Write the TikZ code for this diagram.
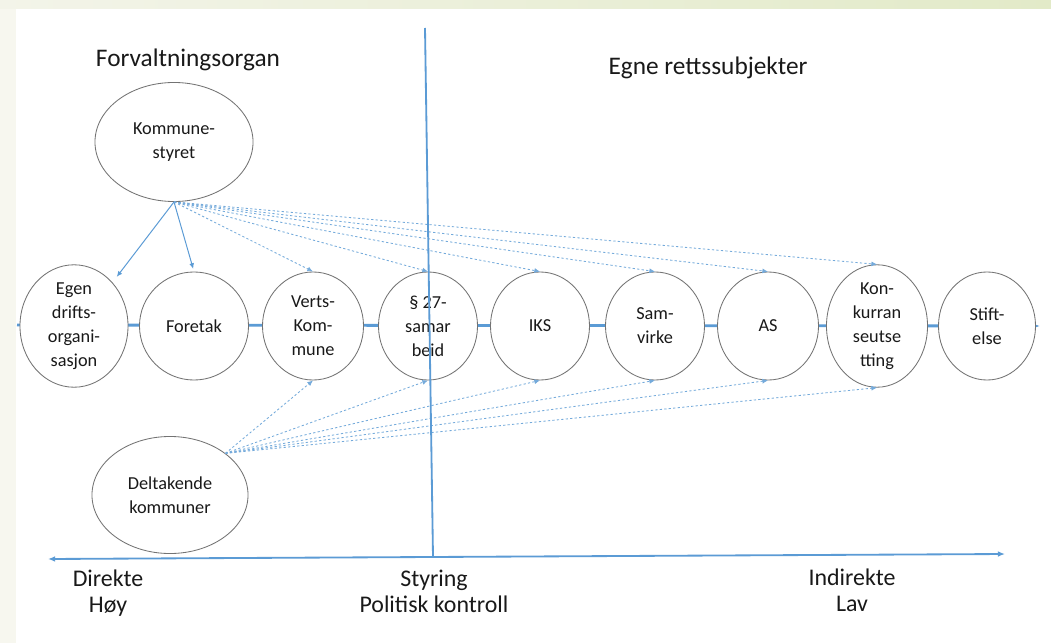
\documentclass[tikz,border=0pt]{standalone}
\usepackage{fontspec}
\setmainfont{Carlito}
\usepackage{tikz}
\usetikzlibrary{shapes.geometric,arrows.meta}
\definecolor{lineblue}{RGB}{91,155,213}
\definecolor{slidecream}{RGB}{247,247,239}
\definecolor{slidegreenL}{RGB}{243,244,233}
\definecolor{slidegreenR}{RGB}{226,234,200}

\begin{document}
\begin{tikzpicture}[x=0.025cm,y=-0.025cm,
		every node/.style={text=black!90},
		org/.style={ellipse,draw=black!55,line width=0.6pt,fill=white,inner sep=0pt,align=center,
			minimum height=2.7cm,font=\fontsize{13}{17}\selectfont},
		heading/.style={font=\fontsize{18}{21}\selectfont},
		axislabel/.style={align=center,font=\fontsize{17}{18.5}\selectfont},
		blueaxis/.style={draw=lineblue,line width=1.3pt},
		rowline/.style={draw=lineblue,line width=2pt,-{Latex[length=5pt,width=4pt]}},
		solidarr/.style={draw=lineblue,line width=0.7pt,-{Latex[length=4pt,width=3.5pt]}},
		dasharr/.style={draw=lineblue!85,line width=0.6pt,dash pattern=on 1.6pt off 1.6pt,-{Latex[length=4pt,width=3.5pt]}}]
		% slide background
		\fill[slidecream] (0,0) rectangle (1051,643);
		\shade[left color=slidegreenL,right color=slidegreenR] (0,0) rectangle (1051,9);
		\fill[white] (16,9) rectangle (1051,643);
		
		\node[heading] (forv) at (188,60) {Forvaltningsorgan};
		\node[heading] (egne) at (708,68) {Egne rettssubjekter};
		
		% the row of organisation forms, line behind the circles
		\coordinate (rowstart) at (17,325);
		\coordinate (rowend) at (1040,326);
		\draw[rowline] (rowstart) -- (rowend);
		\foreach \name/\cx/\w/\txt in {egen/74/2.7/{Egen\\drifts-\\organi-\\sasjon},
			foretak/194/2.725/{Foretak},
			verts/313/2.525/{Verts-\\Kom-\\mune},
			para/428/2.475/{§ 27-\\samar\\beid},
			iks/540/2.475/{IKS},
			samvirke/655/2.475/{Sam-\\virke},
			aks/768/2.525/{AS},
			konk/877/2.525/{Kon-\\kurran\\seutse\\tting},
			stift/987/2.425/{Stift-\\else}}
			\node[org,minimum width=\w cm] (\name) at (\cx,326) {\txt};
		
		\node[org,minimum width=3.95cm,minimum height=2.975cm] (ks) at (174,142) {Kommune-\\styret};
		\node[org,minimum width=3.9cm,minimum height=2.925cm] (dk) at (170,495) {Deltakende\\kommuner};
		
		% styring fra kommunestyret
		\draw[solidarr,shorten >=5pt] (ks.south) -- (egen.north east);
		\draw[solidarr,shorten >=2pt] (ks.south) -- (foretak.north);
		\foreach \n in {verts,para,iks,samvirke,aks,konk}
			\draw[dasharr] (ks.south) -- (\n.north);
		% styring fra deltakende kommuner
		\foreach \n in {verts,para,iks,samvirke,aks,konk}
			\draw[dasharr] (dk.north east) -- (\n.south);
		
		% axes
		\coordinate (vtop) at (425,28);
		\coordinate (vbot) at (433,557);
		\draw[blueaxis] (vtop) -- (vbot);
		\coordinate (hleft) at (48,559);
		\coordinate (hright) at (1005,554);
		\draw[blueaxis,{Latex[length=5pt,width=4pt]}-{Latex[length=5pt,width=4pt]}] (hleft) -- (hright);
		
		\node[axislabel] (direkte) at (108,593) {Direkte\\Høy};
		\node[axislabel] (styring) at (434,591) {Styring\\Politisk kontroll};
		\node[axislabel] (indirekte) at (852,590) {Indirekte\\Lav};
	\end{tikzpicture}
\end{document}
